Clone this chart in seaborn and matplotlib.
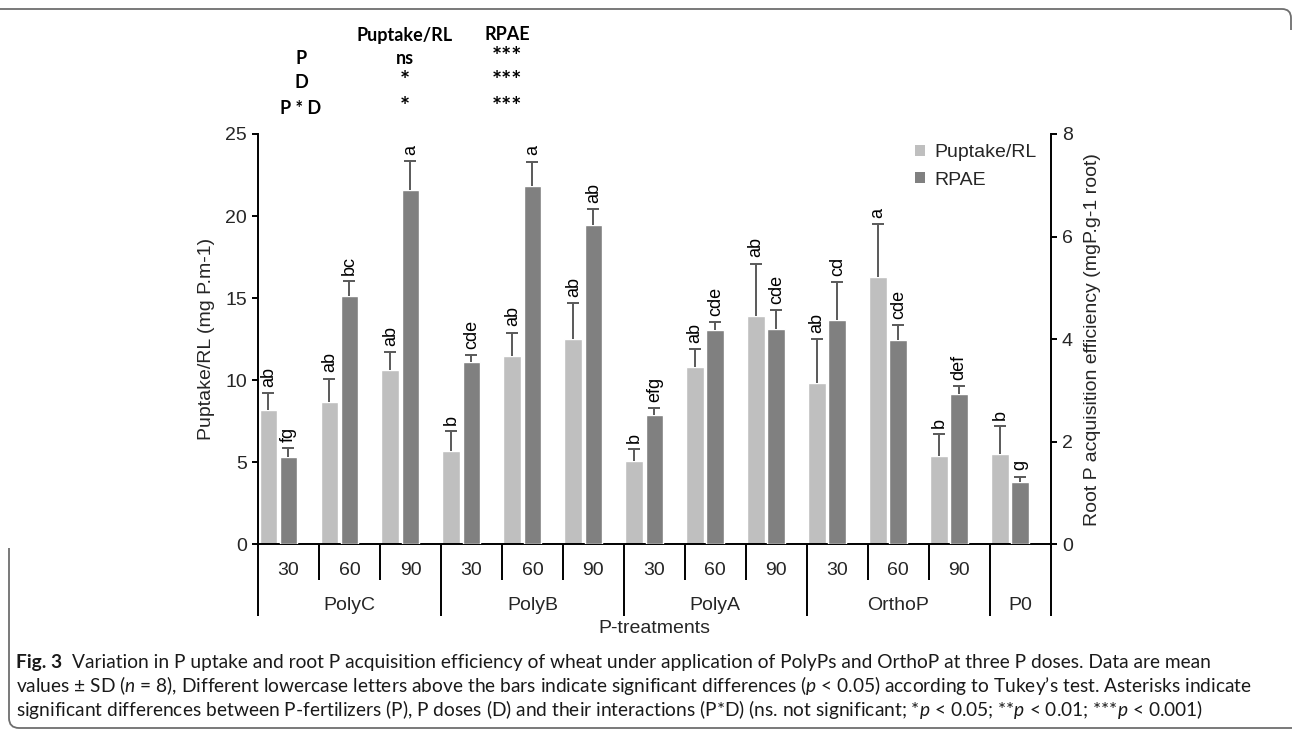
# ============================================================
# P UPTAKE / RPAE BAR CHART (two y axes, grouped x axis)
# ============================================================

import numpy as np
import pandas as pd
import matplotlib
matplotlib.use("Agg")
import matplotlib.pyplot as plt
import matplotlib.transforms as mtransforms
from matplotlib.patches import Patch, PathPatch
from matplotlib.path import Path
import seaborn as sns

# ============================================================
# DATA
# ============================================================

fertilizers = ["PolyC", "PolyB", "PolyA", "OrthoP", "P0"]
fert_sizes = [3, 3, 3, 3, 1]
doses = ["30", "60", "90"] * 4 + [""]

puptake = [8.2, 8.7, 10.6, 5.7, 11.5, 12.5, 5.1, 10.8, 13.9, 9.8, 16.3, 5.4, 5.5]
puptake_sd = [1.0, 1.4, 1.1, 1.2, 1.4, 2.2, 0.7, 1.1, 3.2, 2.7, 3.2, 1.3, 1.7]
letters_pu = ["ab", "ab", "ab", "b", "ab", "ab", "b", "ab", "ab", "ab", "a", "b", "b"]

rpae = [1.70, 4.85, 6.90, 3.55, 6.98, 6.23, 2.52, 4.18, 4.20, 4.38, 3.99, 2.93, 1.22]
rpae_sd = [0.17, 0.28, 0.57, 0.14, 0.48, 0.30, 0.13, 0.15, 0.36, 0.73, 0.29, 0.16, 0.10]
letters_rp = ["fg", "bc", "a", "cde", "a", "ab", "efg", "cde", "cde", "cd", "cde", "def", "g"]

table_cols = ["Puptake/RL", "RPAE"]
table_rows = ["P", "D", "P * D"]
table_pu = ["ns", "*", "*"]
table_rp = ["***", "***", "***"]

caption_lines = [
    "Variation in P uptake and root P acquisition efficiency of wheat under application of PolyPs and OrthoP at three P doses. Data are mean",
    r"values ± SD ($n$ = 8), Different lowercase letters above the bars indicate significant differences ($p$ < 0.05) according to Tukey’s test. Asterisks indicate",
    r"significant differences between P-fertilizers (P), P doses (D) and their interactions (P*D) (ns. not significant; *$p$ < 0.05; **$p$ < 0.01; ***$p$ < 0.001)",
]

# ============================================================
# STYLE
# ============================================================

sns.set_theme(style="white")
plt.rcParams["font.family"] = ["Liberation Sans", "DejaVu Sans"]
plt.rcParams["mathtext.fontset"] = "custom"
plt.rcParams["mathtext.it"] = "Lato:italic"
plt.rcParams["mathtext.rm"] = "Lato"

light = "#bfbfbf"
dark = "#808080"
err_color = "#595959"

W, H = 1292, 730
fig = plt.figure(figsize=(W / 100, H / 100), dpi=100)

x0, x1, y_top, y_bot = 258, 1050.7, 134, 544.3
ax = fig.add_axes([x0 / W, 1 - y_bot / H, (x1 - x0) / W, (y_bot - y_top) / H])
ax2 = ax.twinx()

pos = np.arange(len(doses))
off_pu = -0.33
off_rp = 0.0

# ============================================================
# BARS
# ============================================================

df_pu = pd.DataFrame({"x": pos + off_pu, "y": puptake})
df_rp = pd.DataFrame({"x": pos + off_rp, "y": rpae})

sns.barplot(data=df_pu, x="x", y="y", native_scale=True, width=0.29,
            color=light, saturation=1, errorbar=None, ax=ax)
sns.barplot(data=df_rp, x="x", y="y", native_scale=True, width=0.29,
            color=dark, saturation=1, errorbar=None, ax=ax2)

# upper error bars only
for a, xs, ys, sds in [(ax, pos + off_pu, puptake, puptake_sd),
                       (ax2, pos + off_rp, rpae, rpae_sd)]:
    eb = a.errorbar(xs, ys, yerr=[np.zeros(len(ys)), sds], fmt="none",
                    ecolor=err_color, elinewidth=1.4, capsize=4, capthick=1.4)
    eb[1][0].set_visible(False)

# letters
for a, xs, ys, sds, labs in [(ax, pos + off_pu, puptake, puptake_sd, letters_pu),
                             (ax2, pos + off_rp, rpae, rpae_sd, letters_rp)]:
    for x, y, s, t in zip(xs, ys, sds, labs):
        a.annotate(t, (x, y + s), xytext=(0, 4.5), textcoords="offset points",
                   rotation=90, ha="center", va="bottom", fontsize=13, color="black")

# ============================================================
# AXES
# ============================================================

ax.set_xlim(-0.5, len(doses) - 0.5)
ax.set_ylim(0, 25)
ax.set_yticks(np.arange(0, 26, 5))
ax2.set_ylim(0, 8)
ax2.set_yticks(np.arange(0, 9, 2))

for sp in ["top", "right"]:
    ax.spines[sp].set_visible(False)
for sp in ["top", "left", "bottom"]:
    ax2.spines[sp].set_visible(False)
for sp in ["left", "bottom"]:
    ax.spines[sp].set_color("black")
    ax.spines[sp].set_linewidth(1.4)
ax2.spines["right"].set_color("black")
ax2.spines["right"].set_linewidth(1.4)

ax.tick_params(axis="y", left=True, direction="out", length=4, width=1.4,
               color="black", labelsize=14, pad=4)
ax2.tick_params(axis="y", right=True, direction="out", length=4, width=1.4,
                color="black", labelsize=14, pad=4)

ax.set_ylabel("Puptake/RL (mg P.m-1)", fontsize=14, labelpad=7)
ax2.set_ylabel("Root P acquisition efficiency (mgP.g-1 root)", fontsize=14, labelpad=8)
ax.set_xlabel("")

# grouped category axis: long ticks between fertilizers, short ticks between doses
edges = np.concatenate([[0], np.cumsum(fert_sizes)]) - 0.5
inner = [e + 0.5 for e in pos[:-1] if (e + 0.5) not in edges]
ax.set_xticks(edges)
ax.set_xticks(inner, minor=True)
ax.tick_params(axis="x", which="major", bottom=True, length=52, width=1.4,
               color="black", direction="out", labelbottom=False)
ax.tick_params(axis="x", which="minor", bottom=True, length=26, width=1.4,
               color="black", direction="out", labelbottom=False)

trans = mtransforms.blended_transform_factory(ax.transData, ax.transAxes)
for x, d in zip(pos, doses):
    ax.text(x, -0.063, d, transform=trans, ha="center", va="center", fontsize=14)
centers = (edges[:-1] + edges[1:]) / 2
for x, f in zip(centers, fertilizers):
    ax.text(x, -0.149, f, transform=trans, ha="center", va="center", fontsize=14)
ax.text(0.5, -0.206, "P-treatments", transform=ax.transAxes,
        ha="center", va="center", fontsize=14)

# ============================================================
# LEGEND
# ============================================================

handles = [Patch(facecolor=light, edgecolor="none"), Patch(facecolor=dark, edgecolor="none")]
fig.legend(handles, ["Puptake/RL", "RPAE"], loc="upper left",
           bbox_to_anchor=(915 / W, 1 - 144 / H), frameon=False, fontsize=14,
           handlelength=0.5, handleheight=0.5, handletextpad=0.5,
           labelspacing=0.55, borderpad=0, borderaxespad=0)

# ============================================================
# SIGNIFICANCE TABLE
# ============================================================

tfont = dict(family=["Lato", "DejaVu Sans"], fontweight="bold",
             ha="center", va="center", color="black")
col_x = [405 / W, 507 / W]
row_y = [1 - 59 / H, 1 - 83 / H, 1 - 108 / H]
fig.text(col_x[0], 1 - 35 / H, table_cols[0], fontsize=13, **tfont)
fig.text(col_x[1], 1 - 35 / H, table_cols[1], fontsize=13, **tfont)
for y, r, a, b in zip(row_y, table_rows, table_pu, table_rp):
    fig.text(301 / W, y, r, fontsize=13, **tfont)
    fig.text(col_x[0], y + 1 / H, a, fontsize=13 if a == "ns" else 17, **tfont)
    fig.text(col_x[1], y + 1 / H, b, fontsize=17, **tfont)

# ============================================================
# CAPTION
# ============================================================

cfont = dict(family=["Lato", "DejaVu Sans"], fontsize=13.8, color="#1a1a1a")
cap_y = [1 - 668 / H, 1 - 692 / H, 1 - 716 / H]
fig_lbl = fig.text(16 / W, cap_y[0], "Fig. 3", fontweight="bold", va="baseline", **cfont)
ax.annotate(caption_lines[0], xy=(1, 0), xycoords=fig_lbl, xytext=(7, 0),
            textcoords="offset points", va="bottom", annotation_clip=False, **cfont)
fig.text(16 / W, cap_y[1], caption_lines[1], va="baseline", **cfont)
fig.text(16 / W, cap_y[2], caption_lines[2], va="baseline", **cfont)

# ============================================================
# FRAME LINES
# ============================================================

def px(pts):
    return [(x / W, 1 - y / H) for x, y in pts]

top = Path(px([(0, 9), (1282, 9), (1291, 9), (1291, 18), (1291, 30)]),
           [Path.MOVETO, Path.LINETO, Path.CURVE3, Path.CURVE3, Path.LINETO])
fig.patches.append(PathPatch(top, transform=fig.transFigure, fill=False,
                             edgecolor="#6e6e6e", lw=1.3))
left = Path(px([(9, 548), (9, 718), (9, 728), (19, 728), (1292, 728)]),
            [Path.MOVETO, Path.LINETO, Path.CURVE3, Path.CURVE3, Path.LINETO])
fig.patches.append(PathPatch(left, transform=fig.transFigure, fill=False,
                             edgecolor="#6e6e6e", lw=1.3))

fig.savefig("out.png", dpi=100)
